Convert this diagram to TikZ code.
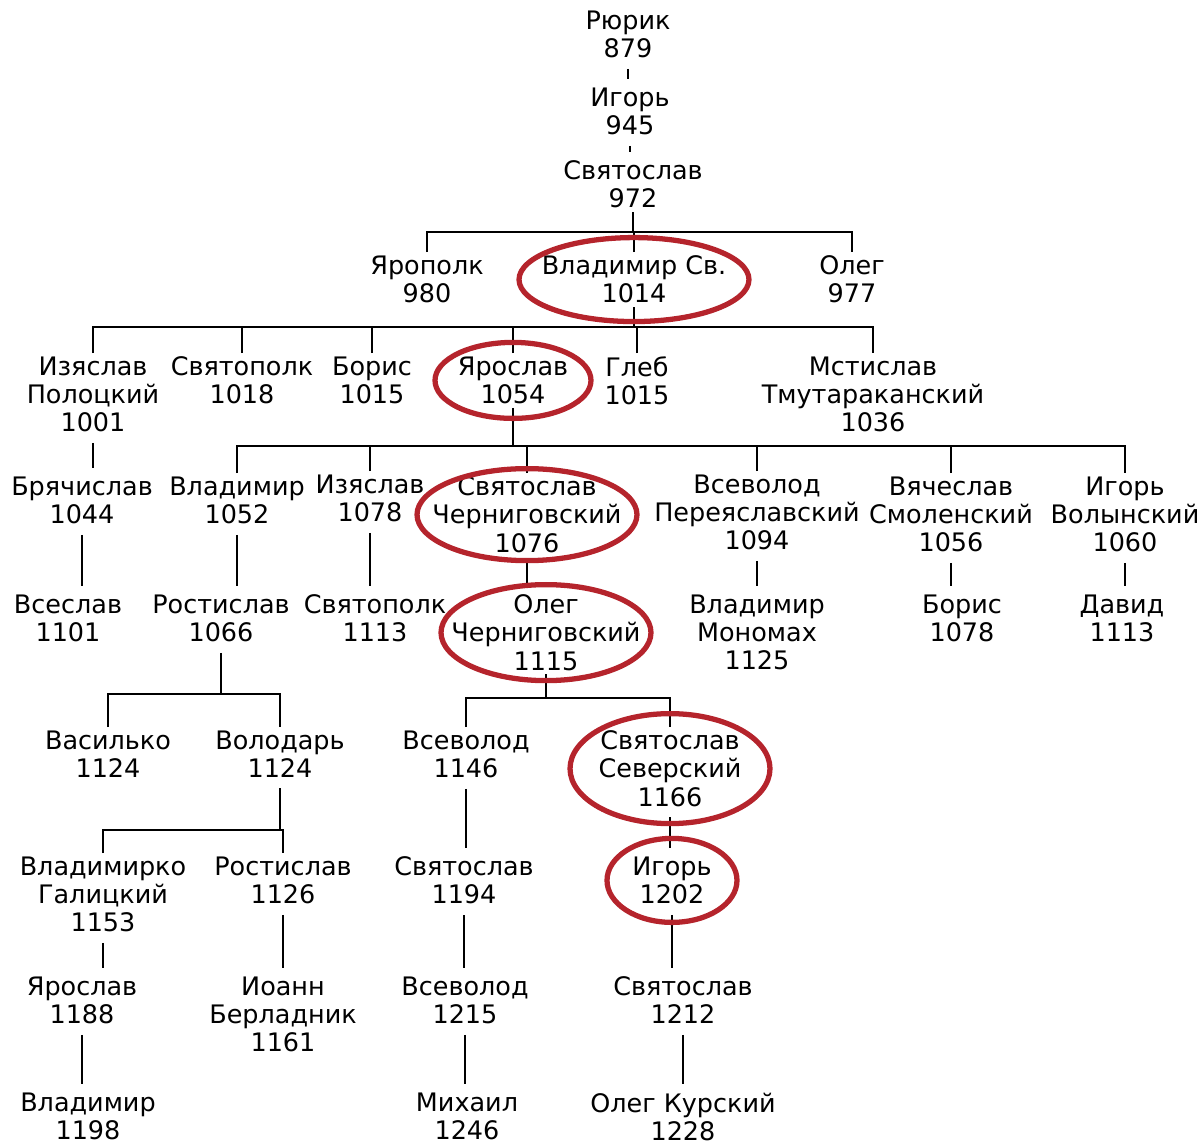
\documentclass[tikz,border=0pt]{standalone}
\usepackage{fontspec}
\setmainfont{DejaVu Sans}
\usetikzlibrary{shapes.geometric}
\definecolor{ringred}{HTML}{B5242C}

\begin{document}
\begin{tikzpicture}[
  x=0.02cm, y=-0.02cm,
  person/.style={anchor=north, align=center, inner sep=2pt, font=\fontsize{14.5}{16}\selectfont},
  tree/.style={line width=1.3pt},
  link/.style={tree, shorten <=4pt, shorten >=3pt},
  ring/.style={draw=ringred, line width=3pt, ellipse, inner sep=0pt}
]
\useasboundingbox (0,0) rectangle (1204,1144);

\node[person] (rurik) at (628,7) {Рюрик\\879};
\node[person] (igor) at (630,84) {Игорь\\945};
\node[person] (svyat) at (633,157) {Святослав\\972};

\node[person] (yaropolk) at (427,252) {Ярополк\\980};
\node[person] (vladimir) at (634,252) {Владимир Св.\\1014};
\node[person] (oleg) at (852,252) {Олег\\977};

\node[person] (izpol) at (93,353) {Изяслав\\Полоцкий\\1001};
\node[person] (svpolk) at (242,353) {Святополк\\1018};
\node[person] (boris) at (372,353) {Борис\\1015};
\node[person] (yaroslav) at (513,353) {Ярослав\\1054};
\node[person] (gleb) at (637,353) {Глеб\\1015};
\node[person] (mstislav) at (873,353) {Мстислав\\Тмутараканский\\1036};

\node[person] (bryach) at (82,473) {Брячислав\\1044};
\node[person] (vlad) at (237,473) {Владимир\\1052};
\node[person] (izyas) at (370,471) {Изяслав\\1078};
\node[person] (svchern) at (527,473) {Святослав\\Черниговский\\1076};
\node[person] (vsper) at (757,471) {Всеволод\\Переяславский\\1094};
\node[person] (vyach) at (951,473) {Вячеслав\\Смоленский\\1056};
\node[person] (igvol) at (1125,473) {Игорь\\Волынский\\1060};

\node[person] (vseslav) at (68,591) {Всеслав\\1101};
\node[person] (rostislav) at (221,591) {Ростислав\\1066};
\node[person] (svpolk2) at (375,591) {Святополк\\1113};
\node[person] (olchern) at (546,591) {Олег\\Черниговский\\1115};
\node[person] (monomakh) at (757,591) {Владимир\\Мономах\\1125};
\node[person] (boris2) at (962,591) {Борис\\1078};
\node[person] (david) at (1122,591) {Давид\\1113};

\node[person] (vasilko) at (108,727) {Василько\\1124};
\node[person] (volodar) at (280,727) {Володарь\\1124};
\node[person] (vsev1) at (466,727) {Всеволод\\1146};
\node[person] (svsev) at (670,727) {Святослав\\Северский\\1166};

\node[person] (vlgal) at (103,853) {Владимирко\\Галицкий\\1153};
\node[person] (rost2) at (283,853) {Ростислав\\1126};
\node[person] (sv1194) at (464,853) {Святослав\\1194};
\node[person] (igor2) at (672,853) {Игорь\\1202};

\node[person] (yar2) at (82,973) {Ярослав\\1188};
\node[person] (ioann) at (283,973) {Иоанн\\Берладник\\1161};
\node[person] (vsev2) at (465,973) {Всеволод\\1215};
\node[person] (sv1212) at (683,973) {Святослав\\1212};

\node[person] (vlad3) at (88,1089) {Владимир\\1198};
\node[person] (mikhail) at (467,1089) {Михаил\\1246};
\node[person] (olkursk) at (683,1089) {Олег Курский\\1228};

\coordinate (bar1) at (0,232);
\coordinate (bar2) at (0,327);
\coordinate (bar3) at (0,446);
\coordinate (bar4) at (0,694);
\coordinate (bar5) at (0,698);
\coordinate (bar6) at (0,830);

\foreach \a/\b in {rurik/igor, igor/svyat, izpol/bryach, bryach/vseslav, vlad/rostislav,
  izyas/svpolk2, svchern/olchern, vsper/monomakh, vyach/boris2, igvol/david,
  vsev1/sv1194, svsev/igor2, vlgal/yar2, rost2/ioann, sv1194/vsev2, igor2/sv1212,
  yar2/vlad3, vsev2/mikhail, sv1212/olkursk}
  \draw[link] (\a.south) -- (\a.south |- \b.north);

\draw[tree] (svyat.south) -- (svyat.south |- bar1);
\draw[tree] (yaropolk.north) |- (oleg.north |- bar1) -- (oleg.north);
\draw[tree] (vladimir.north) -- (vladimir.north |- bar1);

\draw[tree] (vladimir.south) -- (vladimir.south |- bar2);
\draw[tree] (izpol.north) |- (mstislav.north |- bar2) -- (mstislav.north);
\foreach \c in {svpolk, boris, yaroslav, gleb}
  \draw[tree] (\c.north) -- (\c.north |- bar2);

\draw[tree] (yaroslav.south) -- (yaroslav.south |- bar3);
\draw[tree] (vlad.north) |- (igvol.north |- bar3) -- (igvol.north);
\foreach \c in {izyas, svchern, vsper, vyach}
  \draw[tree] (\c.north) -- (\c.north |- bar3);

\draw[tree, shorten <=4pt] (rostislav.south) -- (rostislav.south |- bar4);
\draw[tree] (vasilko.north) |- (volodar.north |- bar4) -- (volodar.north);

\draw[tree] (olchern.south) -- (olchern.south |- bar5);
\draw[tree] (vsev1.north) |- (svsev.north |- bar5) -- (svsev.north);

\draw[tree, shorten <=4pt] (volodar.south) -- (volodar.south |- bar6);
\draw[tree] (vlgal.north) |- (rost2.north |- bar6) -- (rost2.north);

\node[ring, minimum width=4.6cm, minimum height=1.68cm] (vladring) at (vladimir) {};
\node[ring, minimum width=3.12cm, minimum height=1.52cm] (yarring) at (yaroslav) {};
\node[ring, minimum width=4.4cm, minimum height=1.84cm] (svchring) at (svchern) {};
\node[ring, minimum width=4.2cm, minimum height=1.92cm] (olchring) at (olchern) {};
\node[ring, minimum width=4.0cm, minimum height=2.2cm] (svsevring) at (svsev) {};
\node[ring, minimum width=2.6cm, minimum height=1.68cm] (igorring) at (igor2) {};
\end{tikzpicture}
\end{document}
